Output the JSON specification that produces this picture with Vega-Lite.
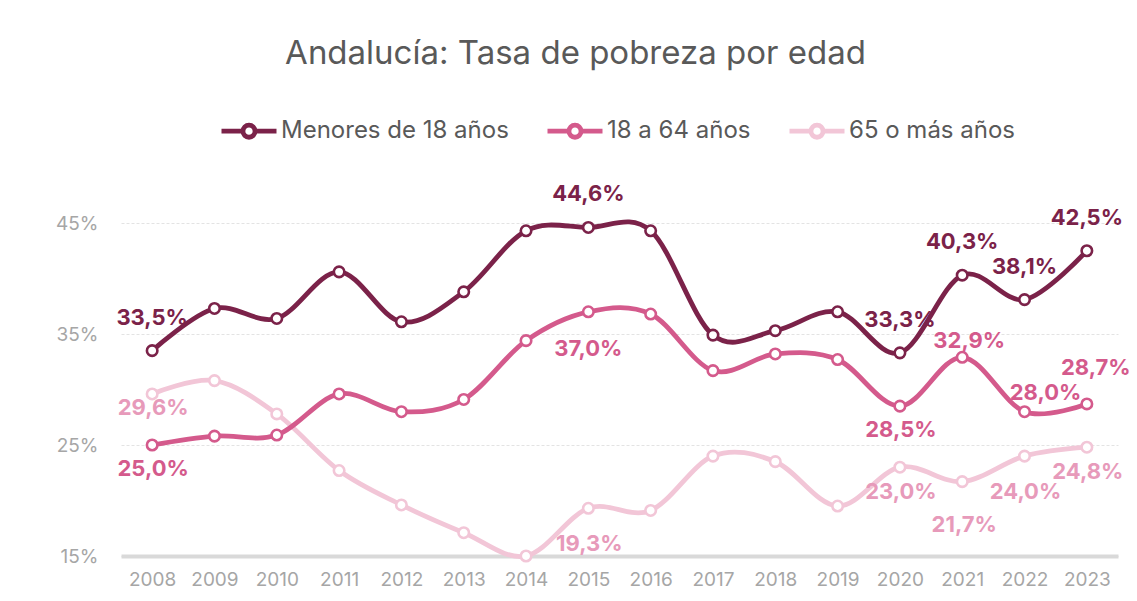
{
  "$schema": "https://vega.github.io/schema/vega-lite/v6.json",
  "width": 997,
  "height": 333,
  "autosize": {"type": "none"},
  "padding": {"left": 121, "top": 223, "right": 19, "bottom": 45},
  "background": "white",
  "config": {"view": {"stroke": null}, "font": "Inter"},
  "title": {
    "text": "Andalucía: Tasa de pobreza por edad",
    "fontSize": 33,
    "font": "Inter",
    "fontWeight": "normal",
    "color": "#595959",
    "anchor": "middle",
    "frame": "group",
    "dx": -44,
    "offset": 30
  },
  "data": {
    "values": [
      {"anio": "2008", "grupo": "65 o más años", "valor": 29.6},
      {"anio": "2009", "grupo": "65 o más años", "valor": 30.8},
      {"anio": "2010", "grupo": "65 o más años", "valor": 27.8},
      {"anio": "2011", "grupo": "65 o más años", "valor": 22.7},
      {"anio": "2012", "grupo": "65 o más años", "valor": 19.6},
      {"anio": "2013", "grupo": "65 o más años", "valor": 17.1},
      {"anio": "2014", "grupo": "65 o más años", "valor": 15.0},
      {"anio": "2015", "grupo": "65 o más años", "valor": 19.3},
      {"anio": "2016", "grupo": "65 o más años", "valor": 19.1},
      {"anio": "2017", "grupo": "65 o más años", "valor": 24.0},
      {"anio": "2018", "grupo": "65 o más años", "valor": 23.5},
      {"anio": "2019", "grupo": "65 o más años", "valor": 19.5},
      {"anio": "2020", "grupo": "65 o más años", "valor": 23.0},
      {"anio": "2021", "grupo": "65 o más años", "valor": 21.7},
      {"anio": "2022", "grupo": "65 o más años", "valor": 24.0},
      {"anio": "2023", "grupo": "65 o más años", "valor": 24.8},
      {"anio": "2008", "grupo": "18 a 64 años", "valor": 25.0},
      {"anio": "2009", "grupo": "18 a 64 años", "valor": 25.8},
      {"anio": "2010", "grupo": "18 a 64 años", "valor": 25.9},
      {"anio": "2011", "grupo": "18 a 64 años", "valor": 29.6},
      {"anio": "2012", "grupo": "18 a 64 años", "valor": 28.0},
      {"anio": "2013", "grupo": "18 a 64 años", "valor": 29.1},
      {"anio": "2014", "grupo": "18 a 64 años", "valor": 34.4},
      {"anio": "2015", "grupo": "18 a 64 años", "valor": 37.0},
      {"anio": "2016", "grupo": "18 a 64 años", "valor": 36.8},
      {"anio": "2017", "grupo": "18 a 64 años", "valor": 31.7},
      {"anio": "2018", "grupo": "18 a 64 años", "valor": 33.2},
      {"anio": "2019", "grupo": "18 a 64 años", "valor": 32.7},
      {"anio": "2020", "grupo": "18 a 64 años", "valor": 28.5},
      {"anio": "2021", "grupo": "18 a 64 años", "valor": 32.9},
      {"anio": "2022", "grupo": "18 a 64 años", "valor": 28.0},
      {"anio": "2023", "grupo": "18 a 64 años", "valor": 28.7},
      {"anio": "2008", "grupo": "Menores de 18 años", "valor": 33.5},
      {"anio": "2009", "grupo": "Menores de 18 años", "valor": 37.3},
      {"anio": "2010", "grupo": "Menores de 18 años", "valor": 36.4},
      {"anio": "2011", "grupo": "Menores de 18 años", "valor": 40.6},
      {"anio": "2012", "grupo": "Menores de 18 años", "valor": 36.1},
      {"anio": "2013", "grupo": "Menores de 18 años", "valor": 38.8},
      {"anio": "2014", "grupo": "Menores de 18 años", "valor": 44.3},
      {"anio": "2015", "grupo": "Menores de 18 años", "valor": 44.6},
      {"anio": "2016", "grupo": "Menores de 18 años", "valor": 44.3},
      {"anio": "2017", "grupo": "Menores de 18 años", "valor": 34.9},
      {"anio": "2018", "grupo": "Menores de 18 años", "valor": 35.3},
      {"anio": "2019", "grupo": "Menores de 18 años", "valor": 37.0},
      {"anio": "2020", "grupo": "Menores de 18 años", "valor": 33.3},
      {"anio": "2021", "grupo": "Menores de 18 años", "valor": 40.3},
      {"anio": "2022", "grupo": "Menores de 18 años", "valor": 38.1},
      {"anio": "2023", "grupo": "Menores de 18 años", "valor": 42.5}
    ]
  },
  "transform": [
    {"calculate": "replace(format(datum.valor, '.1f'), '.', ',') + '%'", "as": "etiqueta"}
  ],
  "encoding": {
    "x": {
      "field": "anio",
      "type": "ordinal",
      "scale": {"type": "point", "padding": 0.5},
      "axis": {
        "title": null,
        "labelAngle": 0,
        "ticks": false,
        "grid": false,
        "domainColor": "#D9D9D9",
        "domainWidth": 4,
        "labelPadding": 14,
        "labelFontSize": 19,
        "labelColor": "#A6A6A6",
        "labelFont": "Inter"
      }
    },
    "y": {
      "field": "valor",
      "type": "quantitative",
      "scale": {"domain": [15, 45], "nice": false, "zero": false},
      "axis": {
        "title": null,
        "values": [15, 25, 35, 45],
        "labelExpr": "datum.value + '%'",
        "domain": false,
        "ticks": false,
        "labelPadding": 23,
        "labelFontSize": 19,
        "labelColor": "#A6A6A6",
        "labelFont": "Inter",
        "gridColor": "#E3E3E3",
        "gridDash": [3, 2],
        "gridWidth": 1
      }
    }
  },
  "layer": [
    {
      "mark": {"type": "line", "interpolate": "cardinal", "tension": 0},
      "encoding": {
        "color": {
          "field": "grupo",
          "type": "nominal",
          "scale": {
            "domain": ["Menores de 18 años", "18 a 64 años", "65 o más años"],
            "range": ["#7B2249", "#D45A8C", "#F2C6D7"]
          },
          "legend": {
            "orient": "none",
            "legendX": 98,
            "legendY": -122,
            "direction": "horizontal",
            "title": null,
            "padding": 0,
            "labelFontSize": 24,
            "labelLimit": 500,
            "labelColor": "#595959",
            "labelFont": "Inter",
            "labelOffset": 2,
            "columnPadding": 28,
            "symbolType": "M-1,0L-0.22,0M0.22,0L1,0M0.22,0A0.22,0.22,0,1,1,-0.22,0A0.22,0.22,0,1,1,0.22,0",
            "symbolSize": 3025,
            "symbolStrokeWidth": 3.5,
            "symbolFillColor": "white",
            "encode": {"symbols": {"update": {"fill": {"value": "white"}}}}
          }
        },
        "strokeWidth": {
          "field": "grupo",
          "type": "nominal",
          "scale": {
            "domain": ["Menores de 18 años", "18 a 64 años", "65 o más años"],
            "range": [4.8, 4.8, 3.6]
          },
          "legend": null
        }
      }
    },
    {
      "mark": {"type": "point", "filled": true, "fill": "white", "size": 110, "strokeWidth": 2.6, "opacity": 1},
      "encoding": {
        "stroke": {
          "field": "grupo",
          "type": "nominal",
          "scale": {
            "domain": ["Menores de 18 años", "18 a 64 años", "65 o más años"],
            "range": ["#7B2249", "#D45A8C", "#F2C6D7"]
          },
          "legend": null
        }
      }
    },
    {
      "transform": [
        {"filter": "datum.grupo === 'Menores de 18 años'"},
        {"filter": {"field": "anio", "oneOf": ["2008", "2015", "2020", "2021", "2022", "2023"]}}
      ],
      "mark": {"type": "text", "font": "Inter", "fontWeight": "bold", "fontSize": 22, "color": "#7B2249", "baseline": "middle", "align": "center", "dy": -33},
      "encoding": {"text": {"field": "etiqueta"}}
    },
    {
      "transform": [
        {"filter": "datum.grupo === '18 a 64 años'"},
        {"filter": {"field": "anio", "oneOf": ["2008", "2020"]}}
      ],
      "mark": {"type": "text", "font": "Inter", "fontWeight": "bold", "fontSize": 22, "color": "#D45A8C", "baseline": "middle", "align": "center", "dx": 1, "dy": 24},
      "encoding": {"text": {"field": "etiqueta"}}
    },
    {
      "transform": [
        {"filter": "datum.grupo === '18 a 64 años'"},
        {"filter": {"field": "anio", "oneOf": ["2015"]}}
      ],
      "mark": {"type": "text", "font": "Inter", "fontWeight": "bold", "fontSize": 22, "color": "#D45A8C", "baseline": "middle", "align": "center", "dy": 37},
      "encoding": {"text": {"field": "etiqueta"}}
    },
    {
      "transform": [
        {"filter": "datum.grupo === '18 a 64 años'"},
        {"filter": {"field": "anio", "oneOf": ["2021"]}}
      ],
      "mark": {"type": "text", "font": "Inter", "fontWeight": "bold", "fontSize": 22, "color": "#D45A8C", "baseline": "middle", "align": "center", "dx": 7, "dy": -16},
      "encoding": {"text": {"field": "etiqueta"}}
    },
    {
      "transform": [
        {"filter": "datum.grupo === '18 a 64 años'"},
        {"filter": {"field": "anio", "oneOf": ["2022"]}}
      ],
      "mark": {"type": "text", "font": "Inter", "fontWeight": "bold", "fontSize": 22, "color": "#D45A8C", "baseline": "middle", "align": "center", "dx": 21, "dy": -19},
      "encoding": {"text": {"field": "etiqueta"}}
    },
    {
      "transform": [
        {"filter": "datum.grupo === '18 a 64 años'"},
        {"filter": {"field": "anio", "oneOf": ["2023"]}}
      ],
      "mark": {"type": "text", "font": "Inter", "fontWeight": "bold", "fontSize": 22, "color": "#D45A8C", "baseline": "middle", "align": "center", "dx": 9, "dy": -36},
      "encoding": {"text": {"field": "etiqueta"}}
    },
    {
      "transform": [
        {"filter": "datum.grupo === '65 o más años'"},
        {"filter": {"field": "anio", "oneOf": ["2008"]}}
      ],
      "mark": {"type": "text", "font": "Inter", "fontWeight": "bold", "fontSize": 22, "color": "#E79ABA", "baseline": "middle", "align": "center", "dx": 1, "dy": 14},
      "encoding": {"text": {"field": "etiqueta"}}
    },
    {
      "transform": [
        {"filter": "datum.grupo === '65 o más años'"},
        {"filter": {"field": "anio", "oneOf": ["2015", "2022"]}}
      ],
      "mark": {"type": "text", "font": "Inter", "fontWeight": "bold", "fontSize": 22, "color": "#E79ABA", "baseline": "middle", "align": "center", "dx": 1, "dy": 36},
      "encoding": {"text": {"field": "etiqueta"}}
    },
    {
      "transform": [
        {"filter": "datum.grupo === '65 o más años'"},
        {"filter": {"field": "anio", "oneOf": ["2020", "2023"]}}
      ],
      "mark": {"type": "text", "font": "Inter", "fontWeight": "bold", "fontSize": 22, "color": "#E79ABA", "baseline": "middle", "align": "center", "dx": 1, "dy": 25},
      "encoding": {"text": {"field": "etiqueta"}}
    },
    {
      "transform": [
        {"filter": "datum.grupo === '65 o más años'"},
        {"filter": {"field": "anio", "oneOf": ["2021"]}}
      ],
      "mark": {"type": "text", "font": "Inter", "fontWeight": "bold", "fontSize": 22, "color": "#E79ABA", "baseline": "middle", "align": "center", "dx": 2, "dy": 43},
      "encoding": {"text": {"field": "etiqueta"}}
    }
  ]
}
